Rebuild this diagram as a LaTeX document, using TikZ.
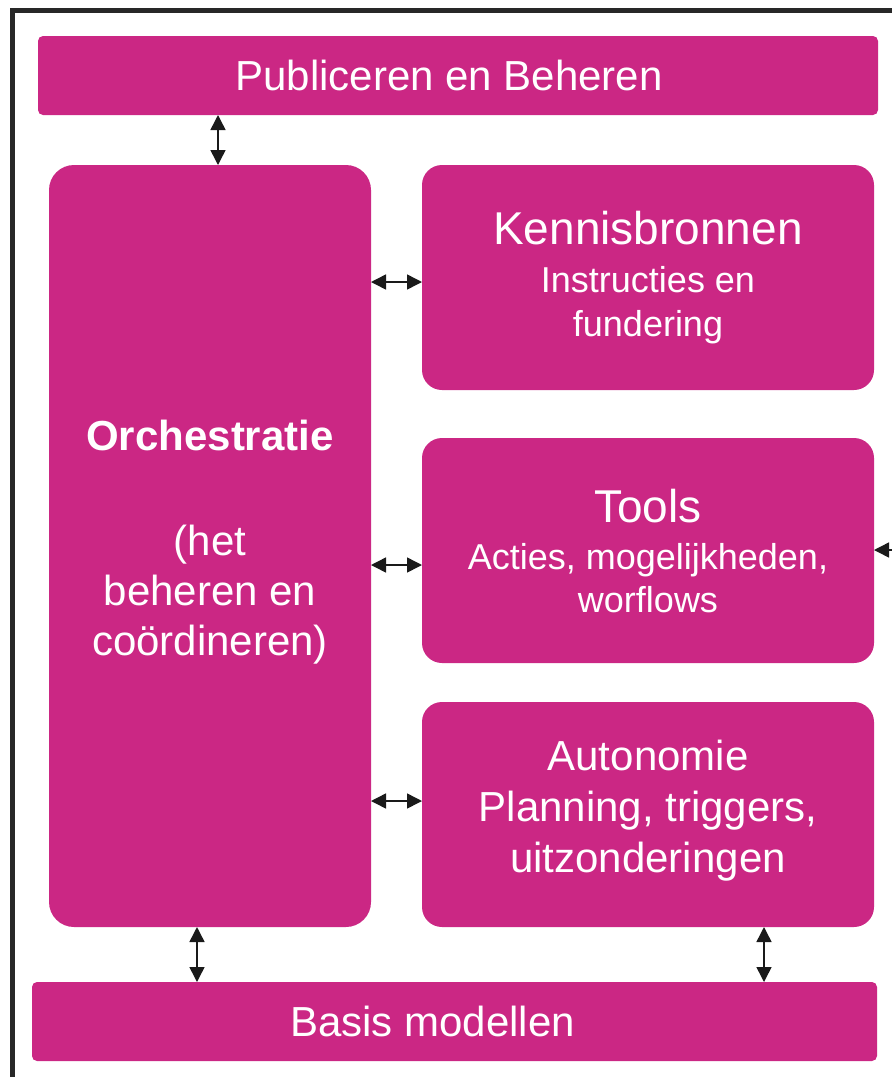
\documentclass[tikz,border=0pt]{standalone}
\usepackage{fontspec}
\setmainfont{Liberation Sans}
\usetikzlibrary{positioning,arrows.meta}

\definecolor{boxmagenta}{RGB}{203,39,132}
\definecolor{framegray}{RGB}{40,40,40}
\definecolor{tipgray}{RGB}{26,26,26}

\newcommand{\lift}[1]{\rule[-#1]{0pt}{#1}}

\tikzset{
  block/.style={fill=boxmagenta, text=white, inner sep=0pt, outer sep=0pt, align=center},
  link/.style={draw=tipgray, line width=1.5pt, {Triangle[length=15pt,width=15pt]}-{Triangle[length=15pt,width=15pt]}},
  onelink/.style={draw=tipgray, line width=1.5pt, -{Triangle[length=15pt,width=15pt]}}
}

\begin{document}
\begin{tikzpicture}[x=1pt, y=-1pt]
\useasboundingbox (0,0) rectangle (892,1077);
\clip (0,0) rectangle (892,1077);

\def\xl{210};
\def\xr{648};
\def\ya{75.5};
\def\yb{277.5};
\def\yc{550.5};
\def\yd{814.5};
\def\ye{1021.5};

\draw[framegray, line width=5pt] (12,10) rectangle (960,1140);

\node[block, rounded corners=5pt, minimum width=840pt, minimum height=79pt,
  font=\fontsize{42}{50}\selectfont] (pub) at (458, \ya) {Publiceren en Beheren\hspace{18pt}};
\node[block, rounded corners=25pt, minimum width=322pt, minimum height=762pt,
  font=\fontsize{42}{50}\selectfont] (orch) at (\xl, 546)
  {\textbf{Orchestratie}\\[55pt](het\\beheren en\\coördineren)\lift{16pt}};
\node[block, rounded corners=20pt, minimum width=452pt, minimum height=225pt,
  font=\fontsize{36}{44}\selectfont] (kennis) at (\xr, \yb)
  {{\fontsize{46}{48}\selectfont Kennisbronnen}\\[4pt]Instructies en\\fundering\lift{4pt}};
\node[block, rounded corners=20pt, minimum width=452pt, minimum height=225pt,
  font=\fontsize{36}{43}\selectfont] (tools) at (\xr, \yc)
  {{\fontsize{46}{48}\selectfont Tools}\\[4pt]Acties, mogelijkheden,\\worflows};
\node[block, rounded corners=20pt, minimum width=452pt, minimum height=225pt,
  font=\fontsize{42}{51}\selectfont] (auto) at (\xr, \yd)
  {Autonomie\\Planning, triggers,\\uitzonderingen\lift{16pt}};
\node[block, rounded corners=5pt, minimum width=845pt, minimum height=79pt,
  font=\fontsize{42}{50}\selectfont] (basis) at (454.5, \ye) {Basis modellen\hspace{44pt}};

\coordinate (ext) at (900, 550);

\draw[link] (pub.south -| 218,0) -- (orch.north -| 218,0);
\foreach \b/\yy in {kennis/282, tools/565, auto/801}
  \draw[link] (orch.east |- 0,\yy) -- (\b.west |- 0,\yy);
\draw[link] (orch.south -| 197,0) -- (basis.north -| 197,0);
\draw[link] (auto.south -| 764,0) -- (basis.north -| 764,0);
\draw[onelink] (ext) -- (tools.east |- ext);
\end{tikzpicture}
\end{document}
